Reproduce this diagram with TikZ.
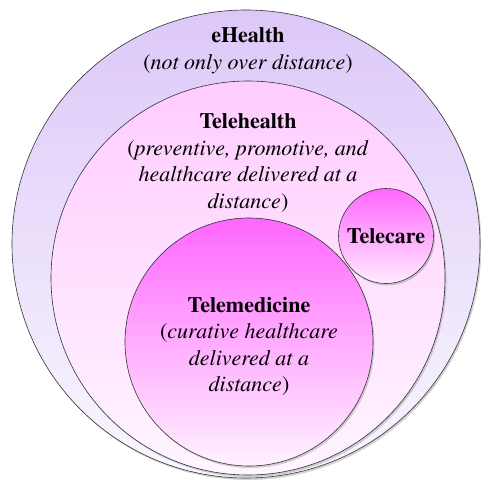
\documentclass[tikz,border=0pt]{standalone}
\usepackage[T1]{fontenc}
\renewcommand{\rmdefault}{ptm}
\usetikzlibrary{shadows}

\tikzset{
	ring/.style = {circle, draw = black!80, line width = 0.6pt, inner sep = 0pt,
		drop shadow = {shadow xshift = 1.5pt, shadow yshift = -2pt, opacity = 0.35}},
	words/.style = {align = center, font = \rmfamily\fontsize{22}{26.5}\selectfont}
}

\begin{document}
\begin{tikzpicture}[x = 1pt, y = -1pt]
		\useasboundingbox (0, 0) rectangle (481, 481) ;
		% the four areas
		\node [ring, minimum size = 468pt, top color = {rgb,255:red,220;green,200;blue,248},
			bottom color = {rgb,255:red,250;green,247;blue,255}] (ehealth) at (246, 244) {} ;
		\node [ring, minimum size = 394pt, top color = {rgb,255:red,255;green,204;blue,255},
			bottom color = {rgb,255:red,255;green,245;blue,255}] (telehealth) at (248, 278) {} ;
		\node [ring, minimum size = 248pt, top color = {rgb,255:red,255;green,102;blue,255},
			bottom color = {rgb,255:red,255;green,242;blue,255}] (telemedicine) at (249, 342) {} ;
		\node [ring, minimum size = 95pt, top color = {rgb,255:red,255;green,102;blue,255},
			bottom color = {rgb,255:red,255;green,235;blue,255}] (telecare) at (386, 236) {} ;
		% their texts
		\node [words] (ehealthtext) at (248, 50.5)
			{\textbf{eHealth}\\(\textit{not only over distance})} ;
		\node [words] (telehealthtext) at (248, 163)
			{\textbf{Telehealth}\\(\textit{preventive, promotive, and}\\
			\textit{healthcare delivered at a}\\\textit{distance})} ;
		\node [words] (telemedicinetext) at (249, 346.5)
			{\textbf{Telemedicine}\\(\textit{curative healthcare}\\
			\textit{delivered at a}\\\textit{distance})} ;
		\node [words] (telecaretext) at (telecare) {\textbf{Telecare}} ;
	\end{tikzpicture}
\end{document}
